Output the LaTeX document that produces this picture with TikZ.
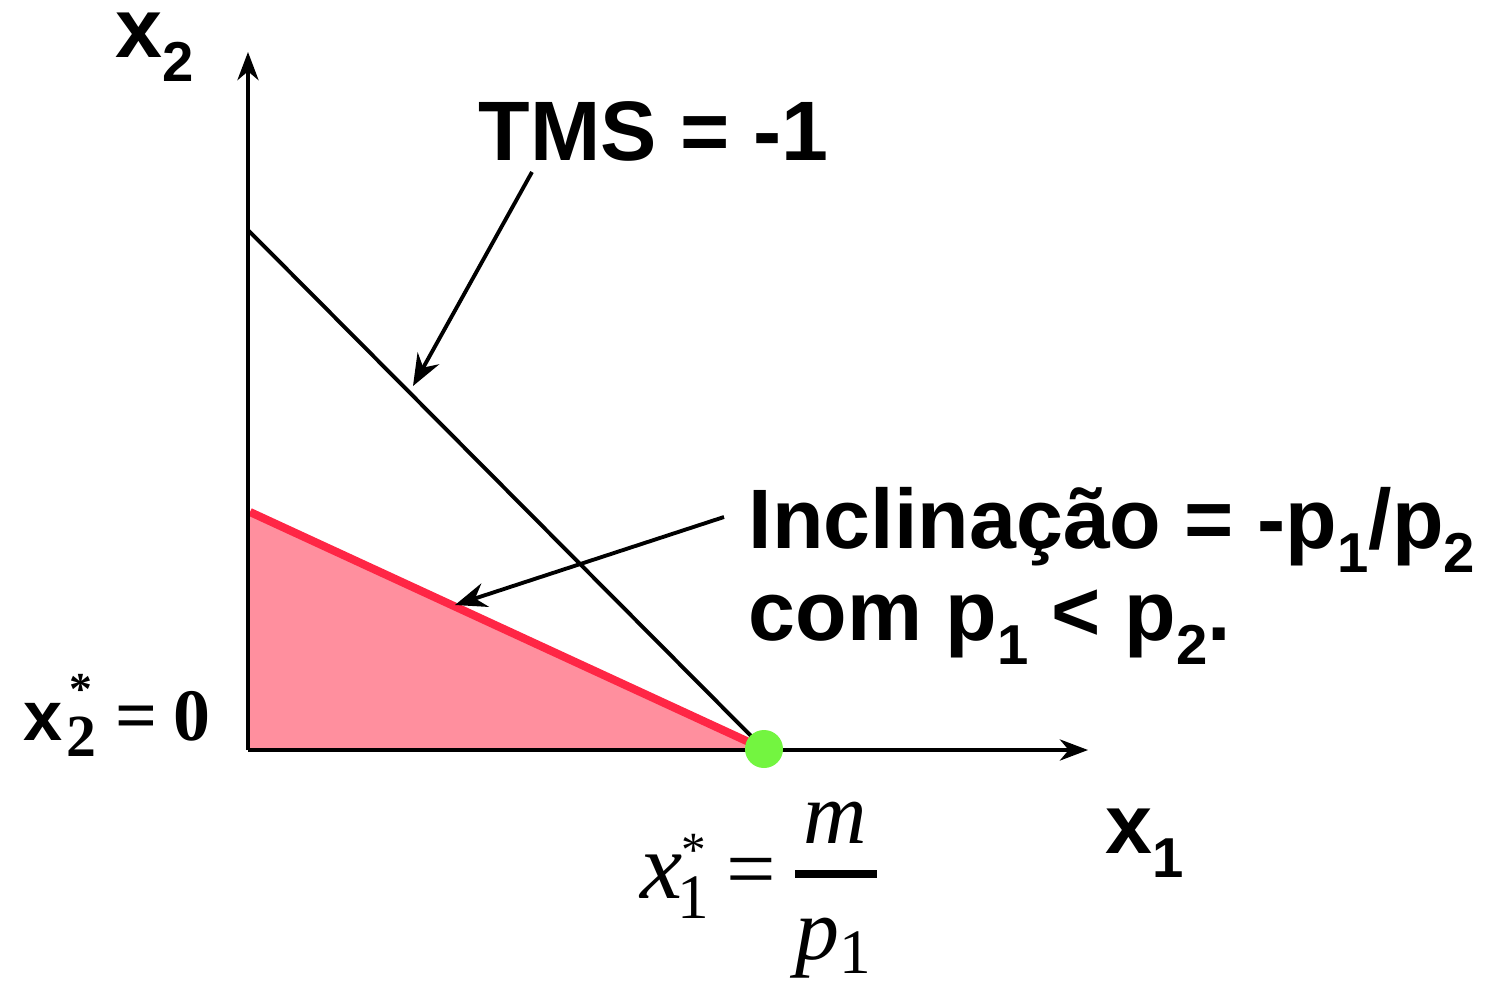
\documentclass[tikz,border=0pt]{standalone}
\usepackage{fontspec}
\setmainfont{Liberation Sans}
\newfontfamily\lserif{Liberation Serif}
\usetikzlibrary{arrows.meta,positioning}

\newcommand{\lowsub}[1]{\raisebox{-7pt}{\fontsize{16}{16}\selectfont #1}}

\begin{document}
\begin{tikzpicture}[x=0.01cm, y=-0.01cm,
    lbl/.style={font=\bfseries\fontsize{24}{26.2}\selectfont, inner sep=0pt},
    eqn/.style={font=\lserif\fontsize{25}{28}\selectfont, inner sep=0pt},
    axis/.style={line width=1.1pt, -{Stealth[length=8pt,width=6pt,inset=2.5pt]}},
    pointer/.style={line width=1.1pt, -{Stealth[length=9pt,width=7pt,inset=3pt]}}]
    % Palette
    \definecolor{fillPink}{HTML}{FF8F9E}
    \definecolor{budgetRed}{HTML}{FF2645}
    \definecolor{optGreen}{HTML}{73F540}

    \useasboundingbox (0,0) rectangle (1502,981);

    % --- Points ---
    \coordinate (O) at (248,750);
    \coordinate (yTop) at (248,52);
    \coordinate (xEnd) at (1088,750);
    \coordinate (E) at (764,749);
    \coordinate (redTop) at (250,512);
    \coordinate (tmsTop) at (248,230);

    % --- Budget set ---
    \fill[fillPink] (248,512) -- (O) -- (E) -- cycle;
    \draw[budgetRed, line width=2.3pt] (redTop) -- (E);

    % --- Axes ---
    \draw[axis] (O) -- (yTop);
    \draw[axis] (O) -- (xEnd);

    % --- Indifference line ---
    \draw[line width=1.1pt] (tmsTop) -- (E);

    % Optimum
    \node[circle, fill=optGreen, minimum size=0.38cm, inner sep=0pt] (opt) at (E) {};

    % --- Labels ---
    \node[lbl, anchor=base west] (x2lbl) at (115,57) {x\lowsub{2}};
    \node[lbl, anchor=base west] (x1lbl) at (1105,853) {x\lowsub{1}};
    \node[lbl, anchor=base west] (tms) at (478,160) {TMS = -1};
    \node[lbl, anchor=base west] (slope) at (748,548)
        {\begin{tabular}[t]{@{}l@{}}Inclinação = -p\lowsub{1}/p\lowsub{2}\\com p\lowsub{1} < p\lowsub{2}.\end{tabular}};

    \node[inner sep=0pt, anchor=base west] (x2star) at (23,740)
        {{\bfseries\fontsize{20}{22}\selectfont x}\hspace{1pt}{\lserif\bfseries\fontsize{17}{18}\selectfont\rlap{\raisebox{-4.8pt}{2}}\rlap{\hspace{1pt}\raisebox{10pt}{\fontsize{13}{13}\selectfont *}}\hspace{8.5pt}\fontsize{21}{22}\selectfont\hspace{5.5pt}=\hspace{4.5pt}0}};

    \node[eqn, anchor=base west] (x1star) at (640,898)
        {{\fontsize{27}{28}\selectfont\itshape x}\hspace{-1.5pt}\rlap{\raisebox{-5.7pt}{\fontsize{18}{18}\selectfont 1}}\hspace{1pt}\raisebox{9pt}{\fontsize{14}{14}\selectfont *}\hspace{6pt}=};
    \node[eqn, anchor=base] (num) at (835,843) {\itshape m};
    \node[eqn, anchor=base] (den) at (833,959) {\itshape p\upshape\raisebox{-4pt}{\fontsize{18}{18}\selectfont 1}};
    \coordinate (barL) at (795,874);
    \coordinate (barR) at (877,874);
    \draw[line width=2pt] (barL) -- (barR);

    % --- Pointers ---
    \coordinate (tmsTail) at (532,172);
    \coordinate (tmsHead) at (413,386);
    \coordinate (slopeTail) at (724,517);
    \coordinate (slopeHead) at (455,605);
    \draw[pointer] (tmsTail) -- (tmsHead);
    \draw[pointer] (slopeTail) -- (slopeHead);

\end{tikzpicture}
\end{document}
